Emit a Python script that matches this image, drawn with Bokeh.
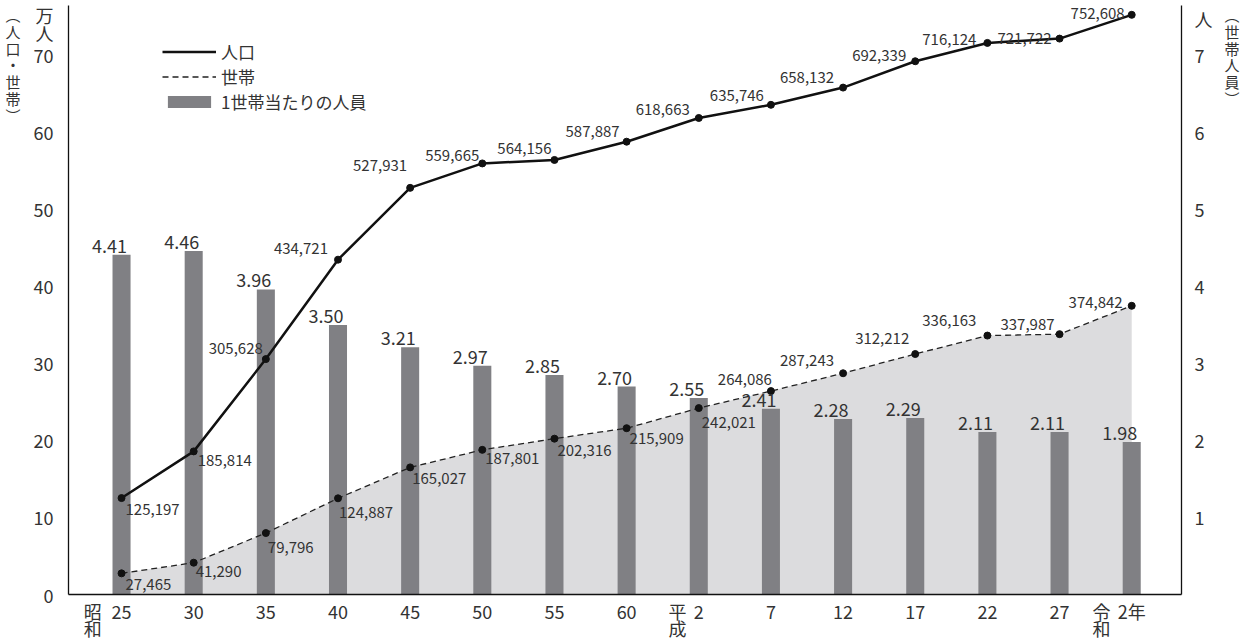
from bokeh.plotting import figure
from bokeh.models import (Range1d, LinearAxis, FixedTicker, ColumnDataSource,
                          LabelSet, Legend, LegendItem)
from bokeh.core.properties import value
from bokeh.embed import file_html
from bokeh.resources import INLINE

# ---------------- data ----------------
years = ["25", "30", "35", "40", "45", "50", "55", "60", "2", "7", "12", "17", "22", "27", "2年"]
eras = ["昭\n和", "平\n成", "令\n和"]
population = [125197, 185814, 305628, 434721, 527931, 559665, 564156, 587887,
              618663, 635746, 658132, 692339, 716124, 721722, 752608]
households = [27465, 41290, 79796, 124887, 165027, 187801, 202316, 215909,
              242021, 264086, 287243, 312212, 336163, 337987, 374842]
persons = [4.41, 4.46, 3.96, 3.50, 3.21, 2.97, 2.85, 2.70,
           2.55, 2.41, 2.28, 2.29, 2.11, 2.11, 1.98]
left_ticks = [0, 10, 20, 30, 40, 50, 60, 70]
right_ticks = [1, 2, 3, 4, 5, 6, 7]
left_unit = "万\n人"
left_title = "︵\n人\n口\n・\n世\n帯\n︶"
right_unit = "人"
right_title = "︵\n世\n帯\n人\n員\n︶"
legend_labels = ["人口", "世帯", "1世帯当たりの人員"]

# ---------------- label styling (offsets in px) ----------------
pop_align = ["left", "left"] + ["right"] * 13
pop_dx = [4, 4, -3, -10, -3, -3, -3, -7, -9, -7, -9, -9, -11, -8, -7]
pop_dy = [-11, -9, 11, 11, 22, 8, 11, 10, 8, 9, 10, 6, 3, 0, 1]
hh_align = ["left"] * 9 + ["right"] * 6
hh_dx = [4, 2, 2, 1, 2, 3, 3, 3, 3, 1, -9, -6, -11, -5, -9]
hh_dy = [-11, -9, -14, -14, -11, -9, -12, -10, -14, 12, 13, 16, 15, 10, 3]

FONT = "Noto Sans CJK JP"
TXT = "#333333"
BAR = "#808084"
AREA = "#dcdcde"

XR = (-0.735, 14.69)
YR = (0, 76.47)
YR2 = (0, 7.647)
# positions (data units) for the era names, the unit marks and vertical titles
era_pos = [-0.40, 7.705, 13.58]
left_unit_pos = 74.07
left_title_pos = 69.66
right_unit_pos = 7.478
right_title_pos = 6.985

idx = list(range(len(years)))
src = ColumnDataSource(dict(
    x=idx,
    pop=[v / 10000 for v in population],
    hh=[v / 10000 for v in households],
    ppl=persons,
    pop_t=[f"{v:,}" for v in population],
    hh_t=[f"{v:,}" for v in households],
    ppl_t=[f"{v:.2f}" for v in persons],
    pa=pop_align, pdx=pop_dx, pdy=pop_dy,
    ha=hh_align, hdx=hh_dx, hdy=hh_dy,
))

p = figure(width=1247, height=644, output_backend="svg", toolbar_location=None,
           x_range=Range1d(*XR), y_range=Range1d(*YR),
           x_axis_type=None, y_axis_type=None,
           min_border_left=68, min_border_right=66, min_border_top=5, min_border_bottom=49)
p.outline_line_color = None
p.background_fill_color = "white"
p.border_fill_color = "white"
p.extra_y_ranges = {"ppl": Range1d(*YR2)}

def style_axis(a, size="18px", line=True):
    a.major_tick_line_color = None
    a.minor_tick_line_color = None
    a.major_tick_out = 0
    a.major_tick_in = 0
    a.axis_line_color = "#111111" if line else None
    a.axis_line_width = 1.3
    a.major_label_text_font = FONT
    a.major_label_text_font_size = size
    a.major_label_text_color = TXT

# left numeric axis (+ unit mark above 70)
lt = left_ticks + [left_unit_pos]
left = LinearAxis(ticker=FixedTicker(ticks=lt),
                  major_label_overrides={left_unit_pos: left_unit})
style_axis(left)
left.major_label_standoff = 15
left.major_label_text_line_height = 0.7
p.add_layout(left, "left")

# outer left: vertical title
left2 = LinearAxis(ticker=FixedTicker(ticks=[left_title_pos]),
                   major_label_overrides={left_title_pos: left_title})
style_axis(left2, size="15px", line=False)
left2.major_label_standoff = 10
left2.major_label_text_line_height = 0.8
p.add_layout(left2, "left")

# right numeric axis (+ unit mark)
rt = right_ticks + [right_unit_pos]
right = LinearAxis(y_range_name="ppl", ticker=FixedTicker(ticks=rt),
                   major_label_overrides={right_unit_pos: right_unit})
style_axis(right)
right.major_label_standoff = 13
p.add_layout(right, "right")

right2 = LinearAxis(y_range_name="ppl", ticker=FixedTicker(ticks=[right_title_pos]),
                    major_label_overrides={right_title_pos: right_title})
style_axis(right2, size="15px", line=False)
right2.major_label_standoff = 9
right2.major_label_text_line_height = 0.8
p.add_layout(right2, "right")

# bottom axis: years + era names
bt = idx + era_pos
overrides = {i: years[i] for i in idx}
overrides.update({pos: name for pos, name in zip(era_pos, eras)})
bottom = LinearAxis(ticker=FixedTicker(ticks=bt), major_label_overrides=overrides)
style_axis(bottom)
bottom.major_label_standoff = 3
bottom.major_label_text_line_height = 0.68
p.add_layout(bottom, "below")

# ---------------- glyphs ----------------
p.varea(x="x", y1=0, y2="hh", source=src, fill_color=AREA)
bars = p.vbar(x="x", top="ppl", width=0.25, y_range_name="ppl", source=src,
              fill_color=BAR, line_color=None)
pop_line = p.line("x", "pop", source=src, line_color="#111111", line_width=2.5)
p.scatter("x", "pop", source=src, size=7, color="#111111")
hh_line = p.line("x", "hh", source=src, line_color="#222222", line_width=1.3, line_dash="6 4")
p.scatter("x", "hh", source=src, size=7, color="#111111")

# ---------------- labels ----------------
p.add_layout(LabelSet(x="x", y="ppl", text="ppl_t", y_range_name="ppl", source=src,
                      x_offset=-12, y_offset=2, text_align="center", text_baseline="bottom",
                      text_font=value(FONT), text_font_size="18px", text_color=TXT))
p.add_layout(LabelSet(x="x", y="pop", text="pop_t", source=src,
                      x_offset="pdx", y_offset="pdy", text_align="pa", text_baseline="middle",
                      text_font=value(FONT), text_font_size="15px", text_color=TXT))
p.add_layout(LabelSet(x="x", y="hh", text="hh_t", source=src,
                      x_offset="hdx", y_offset="hdy", text_align="ha", text_baseline="middle",
                      text_font=value(FONT), text_font_size="15px", text_color=TXT))

# ---------------- legend (one row each) ----------------
legend_y = [530, 505, 480]
for lab, rend, ly in zip(legend_labels, [pop_line, hh_line, bars], legend_y):
    lg = Legend(items=[LegendItem(label=lab, renderers=[rend])],
                location=(94, ly), glyph_width=54, glyph_height=15, label_height=20,
                spacing=0, padding=0, margin=0, label_standoff=5,
                border_line_color=None, background_fill_alpha=0,
                label_text_font=FONT, label_text_font_size="17px", label_text_color=TXT)
    p.add_layout(lg)

open("out.html", "w").write(file_html(p, INLINE))
